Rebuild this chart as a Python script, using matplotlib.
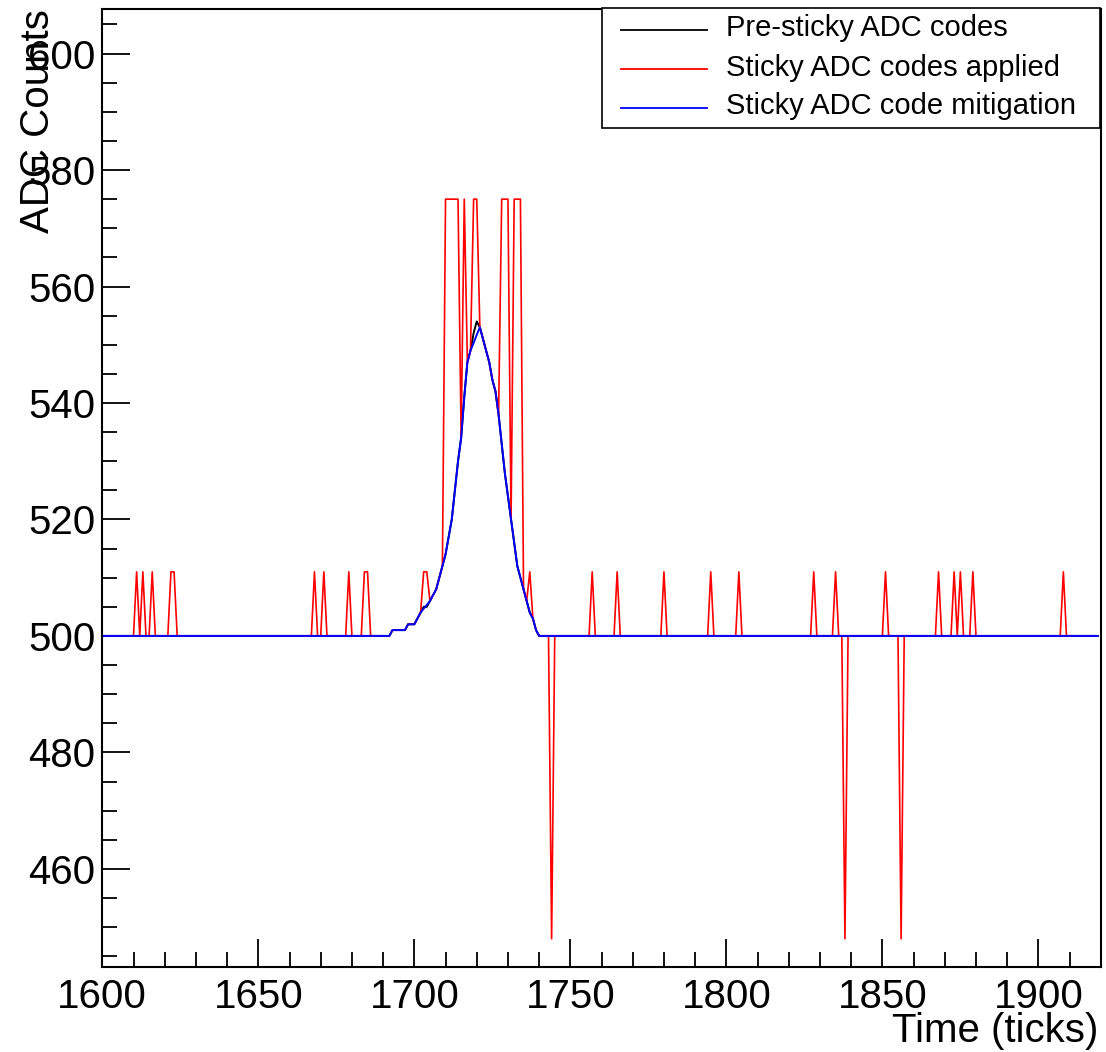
import numpy as np
import matplotlib
matplotlib.use("Agg")
import matplotlib.pyplot as plt
from matplotlib.patches import Rectangle
from matplotlib.lines import Line2D

plt.rcParams['font.family'] = ['Liberation Sans', 'DejaVu Sans']

# ---------------- data ----------------
t_start, t_stop = 1600, 1920
baseline = 500

# pulse (true, pre-sticky) values for ticks 1692..1740
pulse_first = 1692
pulse_true = [500, 501, 501, 501, 501, 501, 502, 502, 502, 503,
              504, 505, 505, 506, 507, 508, 510, 512, 514, 517,
              520, 525, 530, 534, 541, 547, 549, 552, 554, 553,
              551, 549, 547, 544, 542, 538, 533, 528, 524, 520,
              516, 512, 510, 508, 506, 504, 503, 501, 500]

# mitigated values that differ from the true pulse
mitig_ticks = [1703, 1704, 1719, 1720]
mitig_vals = [504.7, 505.3, 550.3, 551.7]

# sticky codes applied
sticky_up_ticks = [1611, 1613, 1616, 1622, 1623, 1668, 1671, 1679, 1684, 1685,
                   1703, 1704, 1737, 1757, 1765, 1780, 1795, 1804, 1828, 1835,
                   1851, 1868, 1873, 1875, 1879, 1908]
sticky_up_val = 511
sticky_down_ticks = [1744, 1838, 1856]
sticky_down_val = 448
sticky_top_ticks = [1710, 1711, 1712, 1713, 1714, 1716, 1719, 1720,
                    1728, 1729, 1730, 1732, 1733, 1734]
sticky_top_val = 575

labels = ["Pre-sticky ADC codes", "Sticky ADC codes applied",
          "Sticky ADC code mitigation"]
colors = ["black", "red", "blue"]

# ---------------- build series ----------------
ticks = np.arange(t_start, t_stop)
pre = np.full(ticks.size, float(baseline))
idx0 = pulse_first - t_start
pre[idx0:idx0 + len(pulse_true)] = pulse_true

sticky = pre.copy()
sticky[np.array(sticky_up_ticks) - t_start] = sticky_up_val
sticky[np.array(sticky_down_ticks) - t_start] = sticky_down_val
sticky[np.array(sticky_top_ticks) - t_start] = sticky_top_val

mitig = pre.copy()
mitig[np.array(mitig_ticks) - t_start] = mitig_vals

# ---------------- figure ----------------
W, H = 1106, 1052
fig = plt.figure(figsize=(W / 100, H / 100), dpi=100)
L, R, T, B = 102.3, 1100.8, 9.3, 966.7
ax = fig.add_axes([L / W, 1 - B / H, (R - L) / W, (B - T) / H])

ax.plot(ticks, pre, color=colors[0], lw=1.4)
ax.plot(ticks, sticky, color=colors[1], lw=1.2)
ax.plot(ticks, mitig, color=colors[2], lw=1.4)

ax.set_xlim(1600, 1920)
ax.set_ylim(443.2, 607.6)
ax.set_xticks(np.arange(1600, 1901, 50))
ax.set_xticks(np.arange(1600, 1921, 10), minor=True)
ax.set_yticks(np.arange(460, 601, 20))
ax.set_yticks(np.arange(445, 607, 5), minor=True)
ax.tick_params(which='both', direction='in', top=False, right=False,
               labelsize=29, width=1.3, color='black')
ax.tick_params(which='major', length=20)
ax.tick_params(which='minor', length=10.5)
ax.tick_params(axis='x', pad=8)
ax.tick_params(axis='y', pad=5)
for s in ax.spines.values():
    s.set_linewidth(1.5)

fig.text(1098 / W, 1 - 1031 / H, "Time (ticks)", fontsize=29,
         ha='right', va='center')
fig.text(38 / W, 1 - 9.3 / H, "ADC Counts", fontsize=29, rotation=90,
         ha='center', va='top')

# legend box
lx0, ly0, lx1, ly1 = 602.3, 8.3, 1100, 127.7
fig.patches.append(Rectangle((lx0 / W, 1 - ly1 / H), (lx1 - lx0) / W,
                             (ly1 - ly0) / H, transform=fig.transFigure,
                             facecolor='white', edgecolor='black', lw=1.2,
                             zorder=5))
line_y = [30.0, 69.0, 108.0]
for lab, c, yy in zip(labels, colors, line_y):
    fig.lines.append(Line2D([620.7 / W, 707.3 / W], [1 - yy / H, 1 - yy / H],
                            transform=fig.transFigure, color=c, lw=1.3,
                            zorder=6))
    fig.text(726 / W, 1 - (yy - 1.5) / H, lab, fontsize=21, ha='left',
             va='center', zorder=6)

fig.savefig("out.png", dpi=100)
